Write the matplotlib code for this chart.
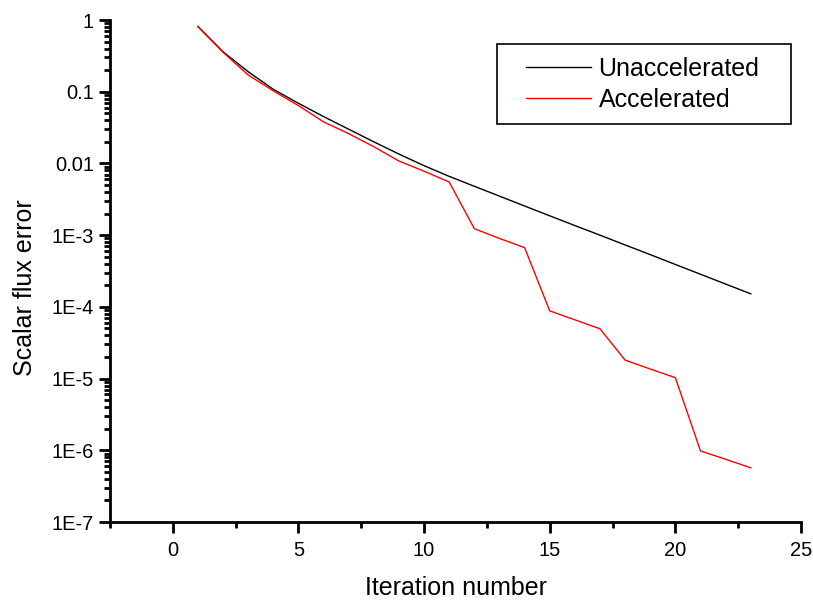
import matplotlib
matplotlib.use("Agg")
import matplotlib.pyplot as plt
from matplotlib.patches import Rectangle
from matplotlib.ticker import MultipleLocator, LogLocator, FixedLocator
import numpy as np

plt.rcParams["font.family"] = ["Liberation Sans", "DejaVu Sans"]

iterations = list(range(1, 24))
unaccelerated = [0.81, 0.36, 0.19, 0.108, 0.069, 0.045, 0.030, 0.020, 0.0135,
                 0.0093, 0.0066, 0.0048, 0.0035, 2.55e-3, 1.86e-3, 1.36e-3,
                 1.0e-3, 7.3e-4, 5.35e-4, 3.9e-4, 2.85e-4, 2.08e-4, 1.52e-4]
accelerated = [0.81, 0.355, 0.171, 0.103, 0.064, 0.038, 0.026, 0.0171, 0.0108,
               0.0078, 0.0055, 1.23e-3, 9.0e-4, 6.7e-4, 8.8e-5, 6.6e-5,
               4.95e-5, 1.81e-5, 1.36e-5, 1.03e-5, 9.8e-7, 7.5e-7, 5.7e-7]

y_ticks = [1, 0.1, 0.01, 1e-3, 1e-4, 1e-5, 1e-6, 1e-7]
y_labels = ["1", "0.1", "0.01", "1E-3", "1E-4", "1E-5", "1E-6", "1E-7"]

W, H = 813, 601
fig = plt.figure(figsize=(W / 100, H / 100), dpi=100)
ax = fig.add_axes([110 / W, 1 - 522 / H, 691 / W, 502 / H])

ax.plot(iterations, unaccelerated, color="black", lw=1, label="Unaccelerated")
ax.plot(iterations, accelerated, color="red", lw=1, label="Accelerated")

ax.set_yscale("log")
ax.set_ylim(1e-7, 1)
ax.set_xlim(-2.5, 25)

ax.yaxis.set_major_locator(FixedLocator(y_ticks))
ax.set_yticklabels(y_labels)
ax.yaxis.set_minor_locator(LogLocator(base=10, subs=np.arange(2, 10)))
ax.yaxis.set_minor_formatter(plt.NullFormatter())
ax.xaxis.set_major_locator(MultipleLocator(5))
ax.xaxis.set_minor_locator(MultipleLocator(2.5))

for s in ["top", "right"]:
    ax.spines[s].set_visible(False)
for s in ["left", "bottom"]:
    ax.spines[s].set_linewidth(2)

ax.tick_params(which="major", direction="out", length=8, width=2, labelsize=14.5)
ax.tick_params(axis="x", which="major", pad=6)
ax.tick_params(which="minor", direction="out", length=4, width=2)

ax.set_xlabel("Iteration number", fontsize=18, labelpad=11)
ax.set_ylabel("Scalar flux error", fontsize=18)
ax.yaxis.set_label_coords(-0.105, 0.466)

# legend without its own frame, boxed by a rectangle like the original
leg = ax.legend(loc="upper left", bbox_to_anchor=(526 / W, 1 - 57 / H),
                bbox_transform=fig.transFigure, fontsize=18, frameon=False,
                handlelength=2.6, handletextpad=0.3, borderpad=0,
                labelspacing=0.28, borderaxespad=0)
fig.patches.append(Rectangle((497 / W, 1 - 124 / H), 294 / W, 80 / H,
                             transform=fig.transFigure, fill=False,
                             edgecolor="black", lw=1.2))

fig.savefig("out.png", dpi=100)
